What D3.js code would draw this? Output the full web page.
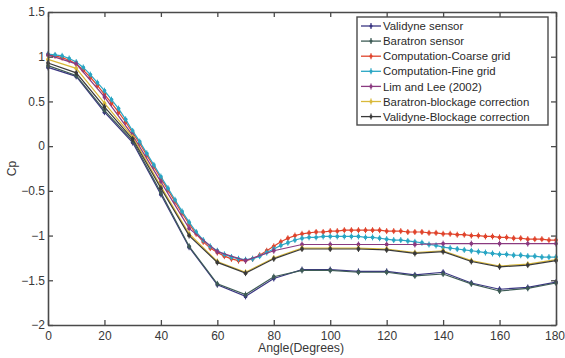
<!DOCTYPE html>
<html>
<head>
<meta charset="utf-8">
<script src="https://cdn.jsdelivr.net/npm/d3@7"></script>
<style>
  html, body { margin: 0; padding: 0; background: #fff; }
  svg { display: block; }
  text { font-family: "Liberation Sans", Arial, sans-serif; }
</style>
</head>
<body>
<svg id="chart" width="565" height="358"></svg>
<script>
// Pressure coefficient around the cylinder, measured vs. computed
const anglesCoarse = [0, 10, 20, 30, 40, 50, 60, 70, 80, 90, 100, 110, 120, 130, 140, 150, 160, 170, 180];
const anglesFine = [0, 2.5, 5, 7.5, 10, 12.5, 15, 17.5, 20, 22.5, 25, 27.5, 30, 32.5, 35, 37.5, 40, 42.5, 45, 47.5,
  50, 52.5, 55, 57.5, 60, 62.5, 65, 67.5, 70, 72.5, 75, 77.5, 80, 82.5, 85, 87.5, 90, 92.5, 95, 97.5,
  100, 102.5, 105, 107.5, 110, 112.5, 115, 117.5, 120, 122.5, 125, 127.5, 130, 132.5, 135, 137.5,
  140, 142.5, 145, 147.5, 150, 152.5, 155, 157.5, 160, 162.5, 165, 167.5, 170, 172.5, 175, 177.5, 180];

const validyneSensor = [0.88, 0.78, 0.38, 0.04, -0.54, -1.13, -1.55, -1.68, -1.48, -1.38, -1.38, -1.40, -1.40, -1.44, -1.41, -1.53, -1.60, -1.58, -1.52];
const baratronSensor = [0.90, 0.79, 0.40, 0.06, -0.52, -1.12, -1.54, -1.66, -1.46, -1.39, -1.39, -1.41, -1.41, -1.45, -1.43, -1.54, -1.62, -1.59, -1.53];
const coarseGrid = [1.02, 1.01, 0.99, 0.96, 0.92, 0.85, 0.77, 0.68, 0.58, 0.48, 0.38, 0.27, 0.15, 0.03, -0.10, -0.23,
  -0.36, -0.49, -0.62, -0.75, -0.87, -0.98, -1.07, -1.14, -1.19, -1.23, -1.26, -1.28, -1.28, -1.26, -1.22, -1.17,
  -1.12, -1.07, -1.03, -1.00, -0.98, -0.97, -0.96, -0.96, -0.95, -0.95, -0.94, -0.94, -0.94, -0.94, -0.94, -0.94,
  -0.95, -0.95, -0.95, -0.96, -0.96, -0.96, -0.97, -0.97, -0.98, -0.98, -0.99, -0.99, -1.00, -1.00, -1.01, -1.01,
  -1.02, -1.02, -1.03, -1.03, -1.04, -1.04, -1.04, -1.05, -1.05];
const fineGrid = [1.03, 1.02, 1.01, 0.98, 0.94, 0.88, 0.80, 0.71, 0.62, 0.52, 0.42, 0.30, 0.17, 0.05, -0.08, -0.21,
  -0.34, -0.47, -0.60, -0.73, -0.85, -0.96, -1.05, -1.12, -1.17, -1.21, -1.24, -1.26, -1.27, -1.26, -1.23, -1.19,
  -1.15, -1.11, -1.08, -1.05, -1.03, -1.02, -1.02, -1.01, -1.01, -1.01, -1.01, -1.01, -1.01, -1.02, -1.02, -1.03,
  -1.04, -1.05, -1.05, -1.06, -1.07, -1.08, -1.10, -1.11, -1.13, -1.14, -1.15, -1.16, -1.17, -1.18, -1.19, -1.20,
  -1.21, -1.21, -1.22, -1.22, -1.23, -1.23, -1.24, -1.24, -1.24];
const limLee = [1.02, 0.92, 0.55, 0.12, -0.40, -0.92, -1.18, -1.28, -1.17, -1.10, -1.10, -1.10, -1.10, -1.10, -1.09, -1.09, -1.09, -1.09, -1.09];
const baratronBlockage = [0.97, 0.87, 0.48, 0.10, -0.45, -0.98, -1.29, -1.41, -1.25, -1.14, -1.14, -1.14, -1.15, -1.19, -1.17, -1.28, -1.34, -1.32, -1.27];
const validyneBlockage = [0.93, 0.82, 0.44, 0.08, -0.47, -1.00, -1.30, -1.42, -1.26, -1.15, -1.15, -1.15, -1.16, -1.20, -1.18, -1.29, -1.35, -1.33, -1.28];

const seriesNames = ["Validyne sensor", "Baratron sensor", "Computation-Coarse grid", "Computation-Fine grid",
  "Lim and Lee (2002)", "Baratron-blockage correction", "Validyne-Blockage correction"];
const seriesColors = ["#3a3582", "#3e5c56", "#e0442c", "#2aa6c4", "#8a3a80", "#d9b93a", "#3a3a3a"];

const xTicks = [0, 20, 40, 60, 80, 100, 120, 140, 160, 180];
const yTicks = [-2, -1.5, -1, -0.5, 0, 0.5, 1, 1.5];

const series = [
  { name: seriesNames[0], color: seriesColors[0], x: anglesCoarse, y: validyneSensor },
  { name: seriesNames[1], color: seriesColors[1], x: anglesCoarse, y: baratronSensor },
  { name: seriesNames[2], color: seriesColors[2], x: anglesFine, y: coarseGrid },
  { name: seriesNames[3], color: seriesColors[3], x: anglesFine, y: fineGrid },
  { name: seriesNames[4], color: seriesColors[4], x: anglesCoarse, y: limLee },
  { name: seriesNames[5], color: seriesColors[5], x: anglesCoarse, y: baratronBlockage },
  { name: seriesNames[6], color: seriesColors[6], x: anglesCoarse, y: validyneBlockage }
];

const svg = d3.select("#chart");
const plotLeft = 48, plotRight = 556, plotTop = 12, plotBottom = 325;

const x = d3.scaleLinear().domain([0, 180]).range([plotLeft, plotRight]);
const y = d3.scaleLinear().domain([-2, 1.5]).range([plotBottom, plotTop]);

const frameColor = "#4a4a4a";
const textColor = "#383838";

// Series lines and markers
const line = d3.line().x(d => x(d[0])).y(d => y(d[1]));
const plot = svg.append("g");
series.forEach(s => {
  const pts = s.x.map((a, i) => [a, s.y[i]]);
  const g = plot.append("g");
  g.append("path")
    .attr("d", line(pts))
    .attr("fill", "none")
    .attr("stroke", s.color)
    .attr("stroke-width", 1.2);
  const m = g.selectAll("g.m").data(pts).enter().append("g")
    .attr("transform", d => `translate(${x(d[0])},${y(d[1])})`);
  m.append("circle").attr("r", 1.9).attr("fill", s.color);
  m.append("path").attr("d", "M0,-3V3").attr("stroke", s.color).attr("stroke-width", 1);
});

// Axes frame with MATLAB-style inward ticks on every side
const axisBottom = d3.axisBottom(x).tickValues(xTicks).tickSizeInner(-5).tickSizeOuter(0).tickPadding(6);
const axisTop = d3.axisTop(x).tickValues(xTicks).tickSizeInner(-5).tickSizeOuter(0).tickFormat("");
const axisLeft = d3.axisLeft(y).tickValues(yTicks).tickSizeInner(-5).tickSizeOuter(0).tickPadding(3).tickFormat(d3.format("~g"));
const axisRight = d3.axisRight(y).tickValues(yTicks).tickSizeInner(-5).tickSizeOuter(0).tickFormat("");

function styleAxis(g) {
  g.select(".domain").attr("stroke", frameColor).attr("stroke-width", 1.6);
  g.selectAll(".tick line").attr("stroke", frameColor).attr("stroke-width", 1.3);
  g.selectAll(".tick text").attr("fill", textColor).attr("font-size", 12)
    .attr("font-family", "'Liberation Sans', Arial, sans-serif");
}
const gx = svg.append("g").attr("transform", `translate(0,${plotBottom})`).call(axisBottom).call(styleAxis);
// keep the last angle label inside the page edge
gx.selectAll(".tick text").filter(d => d === 180).attr("text-anchor", "end").attr("dx", 8.5);
svg.append("g").attr("transform", `translate(0,${plotTop})`).call(axisTop).call(styleAxis);
svg.append("g").attr("transform", `translate(${plotLeft},0)`).call(axisLeft).call(styleAxis);
svg.append("g").attr("transform", `translate(${plotRight},0)`).call(axisRight).call(styleAxis);

// Axis titles
svg.append("text")
  .attr("x", 301).attr("y", 352)
  .attr("text-anchor", "middle").attr("font-size", 12.3).attr("fill", textColor)
  .text("Angle(Degrees)");
svg.append("text")
  .attr("transform", `translate(16,${(plotTop + plotBottom) / 2}) rotate(-90)`)
  .attr("text-anchor", "middle").attr("font-size", 12).attr("fill", textColor)
  .text("Cp");

// Legend
const lg = svg.append("g");
lg.append("rect")
  .attr("x", 357).attr("y", 17).attr("width", 191).attr("height", 108)
  .attr("fill", "#fff").attr("stroke", frameColor).attr("stroke-width", 1.4);
series.forEach((s, i) => {
  const ly = 26 + i * 15.1;
  const row = lg.append("g").attr("transform", `translate(0,${ly})`);
  row.append("line").attr("x1", 361).attr("x2", 381).attr("y1", 0).attr("y2", 0)
    .attr("stroke", s.color).attr("stroke-width", 1.3);
  row.append("path").attr("d", "M371,-3V3").attr("stroke", s.color).attr("stroke-width", 1.2);
  row.append("circle").attr("cx", 371).attr("cy", 0).attr("r", 1.6).attr("fill", s.color);
  row.append("text").attr("x", 383).attr("y", 4.1).attr("font-size", 11.4).attr("fill", "#2a2a2a")
    .text(s.name);
});
</script>
</body>
</html>
